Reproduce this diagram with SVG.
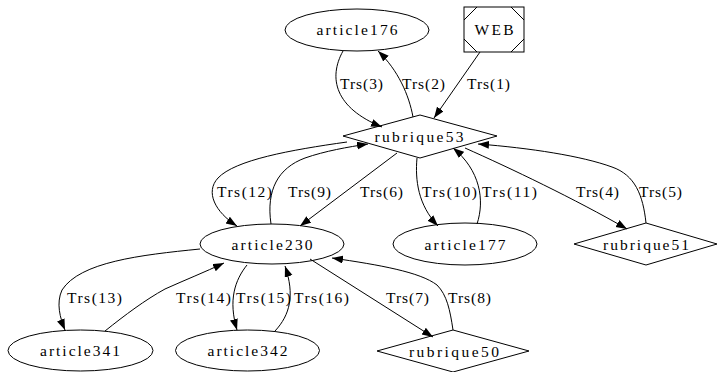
<svg xmlns="http://www.w3.org/2000/svg" width="718" height="372" viewBox="0 0 718 372">
<style>
.n{fill:none;stroke:#000;stroke-width:1}
.e{fill:none;stroke:#000;stroke-width:1;marker-end:url(#ah)}
text{font-family:"Liberation Serif","Times New Roman",serif;font-size:15.5px;fill:#000;text-anchor:middle}
</style>
<defs>
<marker id="ah" markerUnits="userSpaceOnUse" markerWidth="11" markerHeight="9" refX="11" refY="4" orient="auto">
<path d="M0,0 L11,4 L0,8 z" fill="#000"/>
</marker>
</defs>
<rect width="718" height="372" fill="#fff"/>
<g id="edges">
<path class="e" d="M480,52 L434,118"/>
<path class="e" d="M413,117 C409,95 398,70 378,51"/>
<path class="e" d="M343,51 C328,78 335,108 382,127"/>
<path class="e" d="M347,142 C290,150 235,160 218,178 C205,192 215,212 237,226"/>
<path class="e" d="M271,224 C266,190 278,168 305,158 C325,151 348,147 368,144"/>
<path class="e" d="M397,153 L300,226"/>
<path class="e" d="M417,158 C415,180 418,205 438,226"/>
<path class="e" d="M477,224 C485,200 480,170 453,148"/>
<path class="e" d="M465,148 C510,168 575,199 627,229"/>
<path class="e" d="M646,223 C643,195 635,175 612,167 C582,156 530,148 478,144"/>
<path class="e" d="M200,249 C140,255 80,262 62,290 C56,303 60,318 65,330"/>
<path class="e" d="M105,331 C125,315 145,300 165,289 C185,280 205,272 224,263"/>
<path class="e" d="M247,265 C235,280 228,300 237,330"/>
<path class="e" d="M275,331 C290,315 295,295 285,266"/>
<path class="e" d="M310,259 L433,337"/>
<path class="e" d="M453,330 C450,310 447,295 437,285 C420,272 380,265 332,258"/>
</g>
<g id="edge-labels">
<text x="488.5" y="89" textLength="43" lengthAdjust="spacing">Trs(1)</text>
<text x="423.5" y="89" textLength="43" lengthAdjust="spacing">Trs(2)</text>
<text x="361.5" y="89" textLength="43" lengthAdjust="spacing">Trs(3)</text>
<text x="244.5" y="197" textLength="55" lengthAdjust="spacing">Trs(12)</text>
<text x="309.5" y="197" textLength="43" lengthAdjust="spacing">Trs(9)</text>
<text x="381.5" y="197" textLength="43" lengthAdjust="spacing">Trs(6)</text>
<text x="449.5" y="197" textLength="55" lengthAdjust="spacing">Trs(10)</text>
<text x="509.5" y="197" textLength="55" lengthAdjust="spacing">Trs(11)</text>
<text x="597.5" y="197" textLength="43" lengthAdjust="spacing">Trs(4)</text>
<text x="660.5" y="197" textLength="43" lengthAdjust="spacing">Trs(5)</text>
<text x="94.5" y="303" textLength="55" lengthAdjust="spacing">Trs(13)</text>
<text x="203.5" y="303" textLength="55" lengthAdjust="spacing">Trs(14)</text>
<text x="263.5" y="303" textLength="55" lengthAdjust="spacing">Trs(15)</text>
<text x="321.5" y="303" textLength="55" lengthAdjust="spacing">Trs(16)</text>
<text x="407.5" y="303" textLength="43" lengthAdjust="spacing">Trs(7)</text>
<text x="469.5" y="303" textLength="43" lengthAdjust="spacing">Trs(8)</text>
</g>
<g id="article176">
<ellipse class="n" cx="357" cy="30" rx="72" ry="21"/>
<text x="357" y="35" textLength="81" lengthAdjust="spacing">article176</text>
</g>
<g id="WEB">
<rect class="n" x="464" y="7" width="60" height="45"/>
<path class="n" d="M464,20 L477,7 M511,7 L524,20 M464,39 L477,52 M511,52 L524,39"/>
<text x="494" y="35" textLength="39" lengthAdjust="spacing">WEB</text>
</g>
<g id="rubrique53">
<polygon class="n" points="343,136 420,115 497,136 420,158"/>
<text x="419" y="141.5" textLength="89" lengthAdjust="spacing">rubrique53</text>
</g>
<g id="article230">
<ellipse class="n" cx="272" cy="244" rx="72" ry="20"/>
<text x="272" y="249.5" textLength="81" lengthAdjust="spacing">article230</text>
</g>
<g id="article177">
<ellipse class="n" cx="465" cy="244" rx="72" ry="21"/>
<text x="465" y="249.5" textLength="81" lengthAdjust="spacing">article177</text>
</g>
<g id="rubrique51">
<polygon class="n" points="574,244 646,223 717,244 646,265"/>
<text x="646" y="249.5" textLength="86" lengthAdjust="spacing">rubrique51</text>
</g>
<g id="article341">
<ellipse class="n" cx="80.5" cy="350.5" rx="72.5" ry="20.5"/>
<text x="80" y="356" textLength="80" lengthAdjust="spacing">article341</text>
</g>
<g id="article342">
<ellipse class="n" cx="247.5" cy="350.5" rx="72" ry="20.5"/>
<text x="247.5" y="356" textLength="80" lengthAdjust="spacing">article342</text>
</g>
<g id="rubrique50">
<polygon class="n" points="377,351 453,330 529,351 453,372"/>
<text x="454" y="356.5" textLength="90" lengthAdjust="spacing">rubrique50</text>
</g>
</svg>
